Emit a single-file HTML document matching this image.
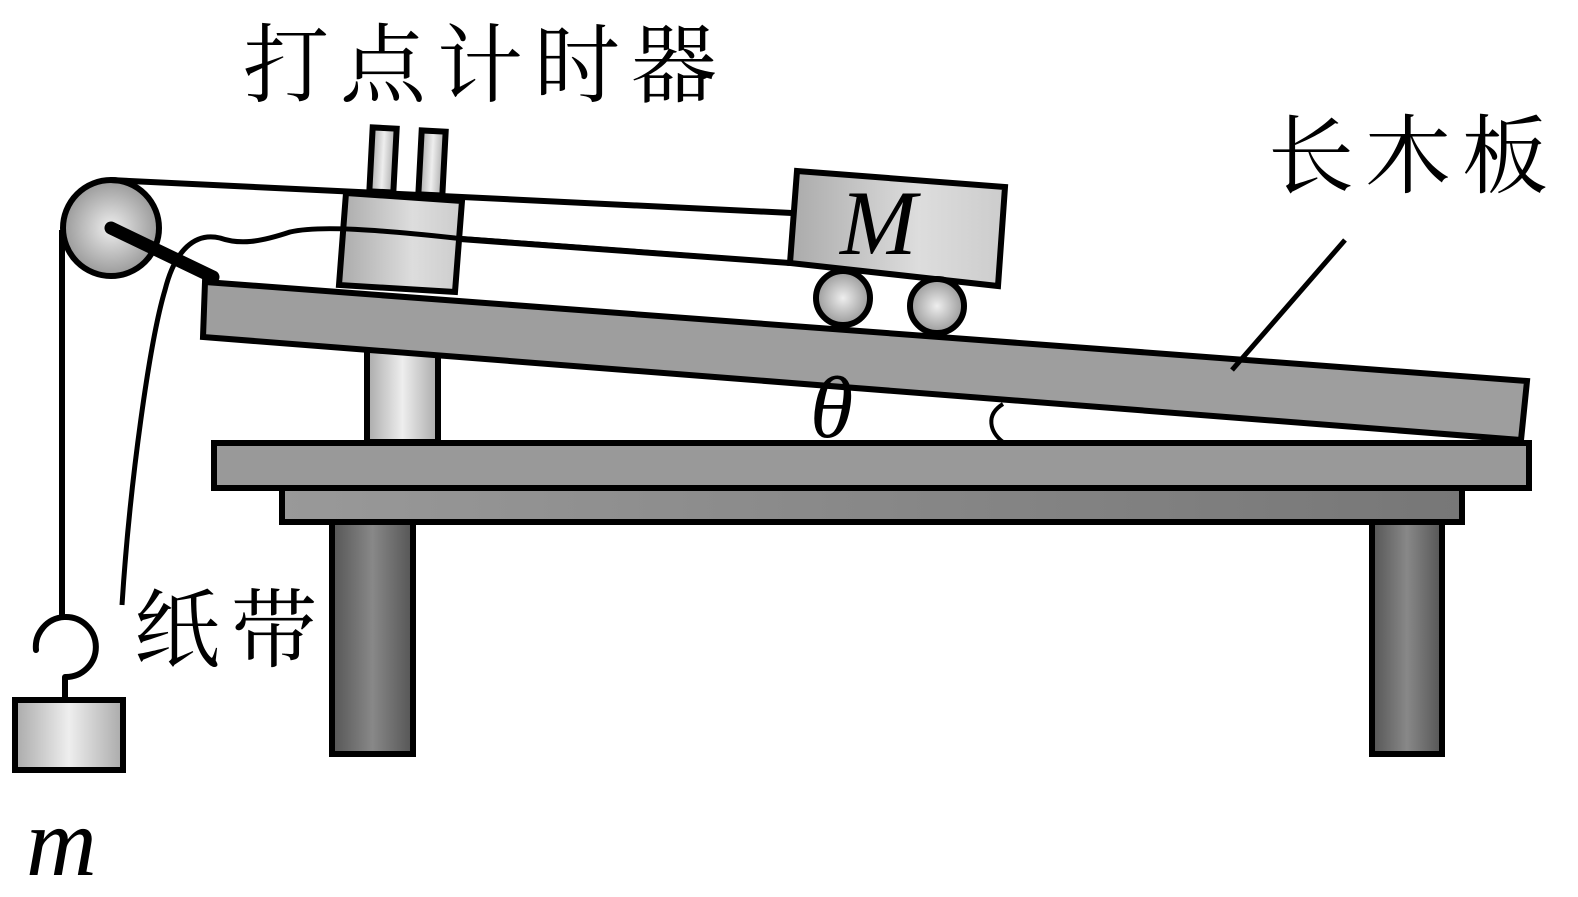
<!DOCTYPE html>
<html><head><meta charset="utf-8"><style>
html,body{margin:0;padding:0;background:#fff;}
svg{display:block}
.cn{font-family:"Noto Serif CJK SC","Liberation Serif",serif;font-size:86px;letter-spacing:11px;fill:#000}
.it{font-family:"Liberation Serif",serif;font-style:italic;fill:#000}
</style></head><body>
<svg width="1578" height="897" viewBox="0 0 1578 897" xmlns="http://www.w3.org/2000/svg">
<defs>
<radialGradient id="rg" cx="0.5" cy="0.5" r="0.5"><stop offset="0" stop-color="#eee"/><stop offset="1" stop-color="#999"/></radialGradient>
<linearGradient id="lg" x1="0" x2="1"><stop offset="0" stop-color="#aaa"/><stop offset="0.5" stop-color="#eee"/><stop offset="1" stop-color="#aaa"/></linearGradient>
<linearGradient id="lg2" x1="0" x2="1"><stop offset="0" stop-color="#aaa"/><stop offset="0.6" stop-color="#ddd"/><stop offset="1" stop-color="#ccc"/></linearGradient>
<linearGradient id="leg" x1="0" x2="1"><stop offset="0" stop-color="#555"/><stop offset="0.5" stop-color="#888"/><stop offset="1" stop-color="#555"/></linearGradient>
<linearGradient id="tb" x1="0" x2="1"><stop offset="0" stop-color="#999"/><stop offset="1" stop-color="#777"/></linearGradient>
</defs>
<g stroke="#000" stroke-width="6">
<rect x="332" y="522" width="81" height="232" fill="url(#leg)"/>
<rect x="1372" y="522" width="70" height="232" fill="url(#leg)"/>
<rect x="282" y="488" width="1180" height="34" fill="url(#tb)"/>
<rect x="214" y="443" width="1315" height="45" fill="#999"/>
<rect x="367" y="330" width="71" height="112" fill="url(#lg)"/>
<polygon points="205,282 1527,381 1521,440 203,337" fill="#9e9e9e"/>
<rect x="371" y="128" width="24" height="64" fill="url(#lg)" transform="rotate(3 383 160)"/>
<rect x="420" y="131" width="24" height="64" fill="url(#lg)" transform="rotate(3 432 163)"/>
<polygon points="346,193 462,201 455,292 339,285" fill="url(#lg2)"/>
<circle cx="111" cy="228" r="48" fill="url(#rg)"/>
<line x1="62" y1="230" x2="62" y2="620" stroke-width="6"/>
<line x1="110" y1="180" x2="792" y2="213" stroke-width="6"/>
<line x1="460" y1="239" x2="790" y2="263" stroke-width="6"/>
<path d="M790,263 L455,238 C380,230 320,225 290,232 C260,242 240,245 220,238 C195,232 175,250 165,290 C150,340 130,480 122,605" fill="none" stroke-width="5"/>
<line x1="111" y1="228" x2="213" y2="277" stroke-width="13" stroke-linecap="round"/>
<polygon points="797,171 1005,187 998,286 790,263" fill="url(#lg2)"/>
<circle cx="843" cy="298" r="27" fill="url(#rg)"/>
<circle cx="937" cy="306" r="27" fill="url(#rg)"/>
<path d="M36,650 A30,30 0 1 1 65,677" fill="none" stroke-width="6" stroke-linecap="round"/>
<line x1="65" y1="677" x2="65" y2="700" stroke-width="6"/>
<rect x="15" y="700" width="108" height="70" fill="url(#lg)"/>
<path d="M1003,404 C985,415 990,432 1003,442" fill="none" stroke-width="4"/>
<line x1="1345" y1="240" x2="1232" y2="370" stroke-width="5"/>
</g>
<text x="243" y="95" class="cn">打点计时器</text>
<text x="1268" y="186" class="cn">长木板</text>
<text x="134" y="660" class="cn">纸带</text>
<text x="840" y="254" class="it" font-size="92">M</text>
<text x="810" y="437" class="it" font-size="88">θ</text>
<text x="26" y="875" class="it" font-size="98">m</text>
</svg>
</body></html>
